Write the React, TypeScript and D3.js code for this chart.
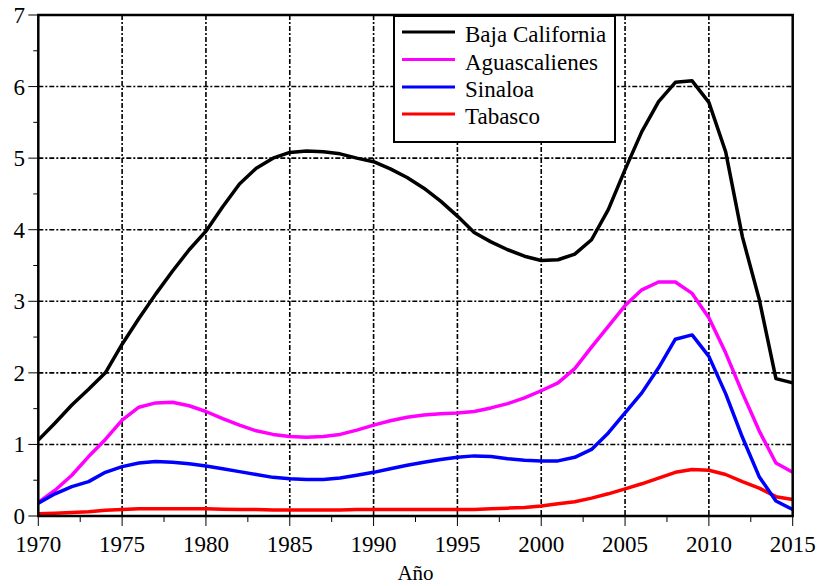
import React from "react";
import * as d3 from "d3";

const years = d3.range(1970, 2016);

const bajaCalifornia = [
  1.06, 1.3, 1.55, 1.77, 2.0, 2.4, 2.76, 3.1, 3.42, 3.72,
  3.98, 4.32, 4.64, 4.86, 5.0, 5.08, 5.1, 5.09, 5.06, 5.0,
  4.95, 4.85, 4.73, 4.58, 4.4, 4.19, 3.96, 3.83, 3.72, 3.63,
  3.57, 3.58, 3.66, 3.86, 4.28, 4.84, 5.37, 5.79, 6.06, 6.08,
  5.78, 5.09, 3.9, 3.03, 1.92, 1.86,
];
const aguascalienes = [
  0.19, 0.36, 0.57, 0.83, 1.07, 1.34, 1.52, 1.58, 1.59, 1.54,
  1.46, 1.36, 1.27, 1.19, 1.14, 1.11, 1.1, 1.11, 1.14, 1.2,
  1.27, 1.33, 1.38, 1.41, 1.43, 1.44, 1.46, 1.51, 1.57, 1.65,
  1.75, 1.86, 2.06, 2.36, 2.65, 2.94, 3.16, 3.27, 3.27, 3.11,
  2.77, 2.28, 1.72, 1.19, 0.74, 0.61,
];
const sinaloa = [
  0.18, 0.31, 0.41, 0.48, 0.61, 0.69, 0.74, 0.76, 0.75, 0.73,
  0.7, 0.66, 0.62, 0.58, 0.54, 0.52, 0.51, 0.51, 0.53, 0.57,
  0.61, 0.66, 0.71, 0.75, 0.79, 0.82, 0.84, 0.83, 0.8, 0.78,
  0.77, 0.77, 0.82, 0.93, 1.16, 1.44, 1.72, 2.07, 2.47, 2.53,
  2.23, 1.71, 1.1, 0.55, 0.21, 0.09,
];
const tabasco = [
  0.03, 0.04, 0.05, 0.06, 0.08, 0.09, 0.1, 0.1, 0.1, 0.1,
  0.1, 0.095, 0.09, 0.09, 0.085, 0.085, 0.085, 0.085, 0.085, 0.09,
  0.09, 0.09, 0.09, 0.09, 0.09, 0.09, 0.09, 0.1, 0.11, 0.12,
  0.14, 0.17, 0.2, 0.25, 0.31, 0.38, 0.45, 0.53, 0.61, 0.65,
  0.64, 0.58, 0.48, 0.39, 0.27, 0.23,
];

const seriesNames = ["Baja California", "Aguascalienes", "Sinaloa", "Tabasco"];
const seriesColors = ["#000000", "#ff00ff", "#0000ff", "#ff0000"];
const seriesValues = [bajaCalifornia, aguascalienes, sinaloa, tabasco];
const drawOrder = [0, 1, 3, 2];

const xTicks = [1970, 1975, 1980, 1985, 1990, 1995, 2000, 2005, 2010, 2015];
const yTicks = [0, 1, 2, 3, 4, 5, 6, 7];
const xLabel = "Año";

const W = 820;
const H = 586;
const left = 38.3;
const right = 792.7;
const top = 15;
const bottom = 516;
const SERIF = '"Liberation Serif"';
const CSS = 'svg.chart text { font-family: "Liberation Serif", "Tinos", "Times New Roman", serif !important; }';

function T(props: { x: number; y: number; size: number; anchor?: string; children: React.ReactNode }) {
  return (
    <text
      className="serif"
      x={props.x}
      y={props.y}
      textAnchor={props.anchor || "start"}
      fill="#000"
      fontFamily="Liberation Serif"
      style={{ fontFamily: SERIF, fontSize: props.size + "px" }}
    >
      {props.children}
    </text>
  );
}

export default function App() {
  const x = d3.scaleLinear().domain([1970, 2015]).range([left, right]);
  const y = d3.scaleLinear().domain([0, 7]).range([bottom, top]);
  const line = d3
    .line<number>()
    .x((_, i) => x(years[i]))
    .y((d) => y(d))
    .curve(d3.curveLinear);

  const xMinor = d3.range(1972.5, 2015, 5);
  const yMinor = d3.range(0.5, 7, 1);
  const dash = "5,2,2,2";

  const legX = 394;
  const legY = 16;
  const legW = 221;
  const legH = 126;
  const rowY = [32, 59.5, 87, 114];

  return (
    <svg className="chart" width={W} height={H} style={{ position: "absolute", left: 0, top: 0, background: "#fff" }}>
      <style>{CSS}</style>
      <rect x={0} y={0} width={W} height={H} fill="#fff" />
      {xTicks.slice(1, -1).map((t) => (
        <line key={"gx" + t} x1={x(t)} x2={x(t)} y1={top} y2={bottom} stroke="#000" strokeWidth={1.6} strokeDasharray={dash} />
      ))}
      {yTicks.slice(1, -1).map((t) => (
        <line key={"gy" + t} x1={left} x2={right} y1={y(t)} y2={y(t)} stroke="#000" strokeWidth={1.6} strokeDasharray={dash} />
      ))}
      {xTicks.map((t) => (
        <line key={"xt" + t} x1={x(t)} x2={x(t)} y1={bottom} y2={bottom + 10} stroke="#000" strokeWidth={1} />
      ))}
      {xMinor.map((t) => (
        <line key={"xm" + t} x1={x(t)} x2={x(t)} y1={bottom} y2={bottom + 6} stroke="#000" strokeWidth={1} />
      ))}
      {yTicks.map((t) => (
        <line key={"yt" + t} x1={left - 10} x2={left} y1={y(t)} y2={y(t)} stroke="#000" strokeWidth={1} />
      ))}
      {yMinor.map((t) => (
        <line key={"ym" + t} x1={left - 5} x2={left} y1={y(t)} y2={y(t)} stroke="#000" strokeWidth={1} />
      ))}
      {xTicks.map((t) => (
        <T key={"xl" + t} x={x(t)} y={552} size={23} anchor="middle">
          {String(t)}
        </T>
      ))}
      {yTicks.map((t) => (
        <T key={"yl" + t} x={25} y={y(t) + 8} size={23} anchor="end">
          {String(t)}
        </T>
      ))}
      <T x={(left + right) / 2} y={580} size={21} anchor="middle">
        {xLabel}
      </T>
      {drawOrder.map((i) => (
        <path
          key={seriesNames[i]}
          d={line(seriesValues[i]) || ""}
          fill="none"
          stroke={seriesColors[i]}
          strokeWidth={3.5}
          strokeLinejoin="round"
        />
      ))}
      <rect x={left} y={top} width={right - left} height={bottom - top} fill="none" stroke="#000" strokeWidth={2.5} />
      <rect x={legX} y={legY} width={legW} height={legH} fill="#fff" stroke="#000" strokeWidth={2} />
      {seriesNames.map((n, i) => (
        <g key={"lg" + n}>
          <line x1={402} x2={455} y1={rowY[i]} y2={rowY[i]} stroke={seriesColors[i]} strokeWidth={3} />
          <T x={465} y={rowY[i] + 10} size={23}>
            {n}
          </T>
        </g>
      ))}
    </svg>
  );
}
